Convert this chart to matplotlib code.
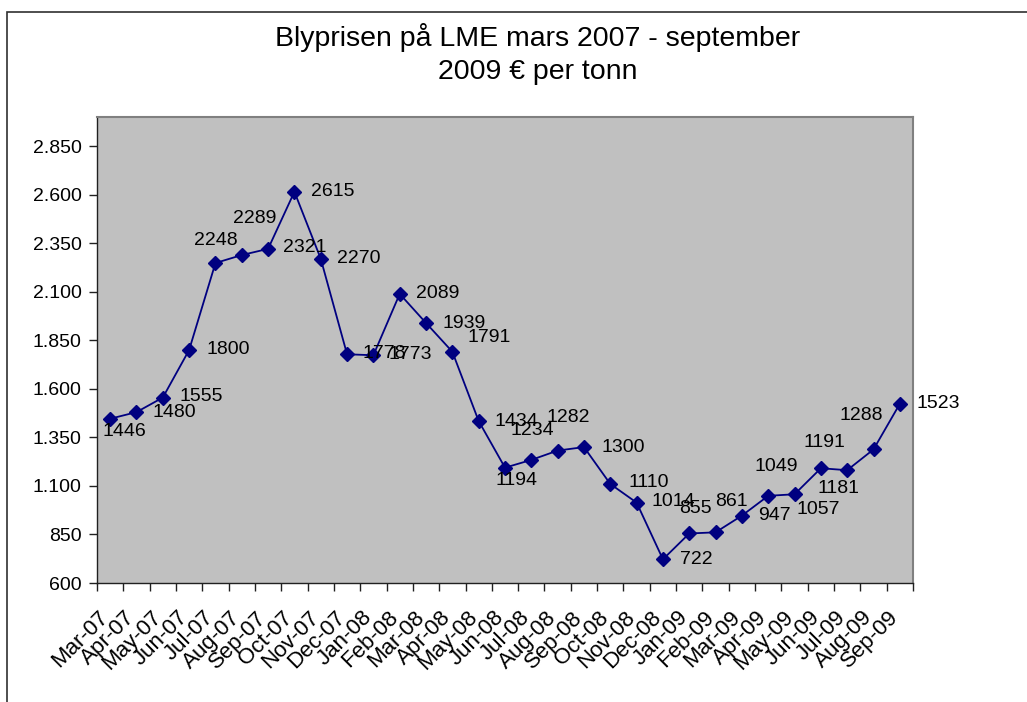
import matplotlib
matplotlib.use("Agg")
import matplotlib.pyplot as plt
from matplotlib.patches import Rectangle
from matplotlib.ticker import FuncFormatter, FixedLocator, NullFormatter

plt.rcParams['font.family'] = ['Liberation Sans', 'DejaVu Sans']

months = ["Mar-07", "Apr-07", "May-07", "Jun-07", "Jul-07", "Aug-07", "Sep-07",
          "Oct-07", "Nov-07", "Dec-07", "Jan-08", "Feb-08", "Mar-08", "Apr-08",
          "May-08", "Jun-08", "Jul-08", "Aug-08", "Sep-08", "Oct-08", "Nov-08",
          "Dec-08", "Jan-09", "Feb-09", "Mar-09", "Apr-09", "May-09", "Jun-09",
          "Jul-09", "Aug-09", "Sep-09"]
prices = [1446, 1480, 1555, 1800, 2248, 2289, 2321, 2615, 2270, 1778, 1773,
          2089, 1939, 1791, 1434, 1194, 1234, 1282, 1300, 1110, 1014, 722,
          855, 861, 947, 1049, 1057, 1191, 1181, 1288, 1523]

title_line1 = "Blyprisen på LME mars 2007 - september"
title_line2 = "2009 € per tonn"

# data label placement (pixel offsets of label centre from point; +dy = down)
label_offsets = [(14, 13), (38, 0), (38, -1), (39, 0), (0, -23), (13, -37),
                 (37, -1), (38, 0), (38, 0), (37, -1), (37, -1), (38, 0),
                 (38, 0), (37, -14), (38, 0), (12, 13), (1, -29), (11, -33),
                 (39, 0), (38, -1), (37, -1), (33, 0), (6, -25), (16, -31),
                 (33, 0), (8, -29), (24, 15), (4, -26), (-9, 18), (-12, -34),
                 (38, 0)]

W, H = 1027, 702
fig = plt.figure(figsize=(W / 100, H / 100), dpi=100)
fig.patch.set_facecolor("white")

# outer chart border
fig.add_artist(Rectangle((7 / W, -0.1), 1.2, (H - 12) / H + 0.1,
                         transform=fig.transFigure, fill=False,
                         edgecolor="#303030", linewidth=1.2))

ax = fig.add_axes([97 / W, (H - 583) / H, 816 / W, 466 / H])
ax.set_facecolor("#C0C0C0")

x = list(range(len(months)))
ax.plot(x, prices, color="#000080", linewidth=1.3, marker="D",
        markersize=7, markerfacecolor="#000080", markeredgecolor="#000080")

for xi, v, (dx, dy) in zip(x, prices, label_offsets):
    ax.annotate(str(v), (xi, v), xytext=(dx, -dy), textcoords="offset pixels",
                ha="center", va="center", fontsize=14, color="black")

ax.set_xlim(-0.5, len(months) - 0.5)
ax.set_ylim(600, 3000)
yticks = list(range(600, 2851, 250))
ax.set_yticks(yticks)
ax.yaxis.set_major_formatter(FuncFormatter(lambda v, p: f"{int(v):,}".replace(",", ".")))
ax.tick_params(axis="y", direction="out", length=6, width=1, labelsize=14,
               pad=5, color="#202020")

# category boundaries carry the tick marks
ax.xaxis.set_major_locator(FixedLocator([i - 0.5 for i in range(len(months) + 1)]))
ax.xaxis.set_major_formatter(NullFormatter())
ax.tick_params(axis="x", which="major", direction="out", length=6, width=1,
               color="#202020")

# category labels, rotated 45 degrees, anchored under each category centre
for xi, m in zip(x, months):
    ax.annotate(m, xy=(xi, 0), xycoords=("data", "axes fraction"),
                xytext=(-12, -24), textcoords="offset pixels",
                rotation=45, rotation_mode="anchor", ha="right", va="top",
                fontsize=16, color="black", annotation_clip=False)

for s in ["top", "right"]:
    ax.spines[s].set_color("#808080")
    ax.spines[s].set_linewidth(1.5)
for s in ["left", "bottom"]:
    ax.spines[s].set_color("#202020")
    ax.spines[s].set_linewidth(1.0)

fig.text(538 / W, 1 - 37 / H, title_line1, ha="center", va="center", fontsize=20.5)
fig.text(538 / W, 1 - 72 / H, title_line2, ha="center", va="center", fontsize=20.5)

fig.savefig("out.png", dpi=100)
